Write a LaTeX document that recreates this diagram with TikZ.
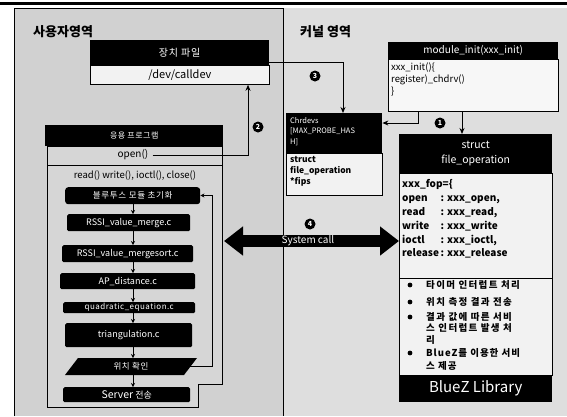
\documentclass[tikz,border=0pt]{standalone}
\usepackage{fontspec}
\setmainfont{Noto Sans CJK KR}
\usetikzlibrary{arrows.meta,calc}
\newcommand\fsz[2]{\fontsize{#1}{#2}\selectfont}
\begin{document}
\begin{tikzpicture}[x=1pt,y=-1pt,
  hdr/.style={fill=black,text=white,inner sep=0pt,anchor=north west,align=center},
  bodybox/.style={draw=black,line width=0.8pt,fill=gray!10,inner sep=0pt,anchor=north west},
  flowbox/.style={fill=black,text=white,inner sep=0pt,anchor=north west,rounded corners=1.5pt,font=\fsz{9}{9}},
  conn/.style={line width=0.9pt,-{Stealth[length=6pt,width=5pt]}},
  small/.style={line width=0.8pt,-{Stealth[length=4pt,width=4pt]}},
  dotnum/.style={circle,fill=black,text=white,inner sep=0pt,minimum size=11pt,font=\fsz{7}{7}\bfseries},
  txt/.style={inner sep=0pt},
  bul/.style={inner sep=0pt},
]
\useasboundingbox (0,0) rectangle (567,416);
% background panels
\fill[white] (0,0) rectangle (567,416);
\fill[gray!26] (283,8) rectangle (567,416);
\fill[gray!36] (14,8) rectangle (283,416);
\draw[line width=3pt] (0,3) -- (567,3);
\draw[line width=0.6pt] (14,416) -- (14,8) -- (283,8);
\draw[line width=0.8pt] (283,8) -- (283,416);

% titles
\node[txt,anchor=west,font=\fsz{13}{13}\bfseries] (userT) at (33,32) {사용자영역};
\node[txt,anchor=west,font=\fsz{13}{13}\bfseries] (kernT) at (300,32) {커널 영역};

% device file
\node[hdr,minimum width=179pt,minimum height=25pt,font=\fsz{10}{10}\addfontfeature{LetterSpace=8}] (devhead) at (90,40) {장치 파일};
\node[bodybox,minimum width=179pt,minimum height=19pt,font=\fsz{11}{11}] (devbody) at (90,65) {/dev/calldev};

% application box
\draw[line width=0.8pt,fill=gray!32] (47,146) -- (47,407) -- (198,407) -- (198,384) -- (222,384) -- (222,146) -- cycle;
\draw[line width=0.8pt] (47,165) -- (222,165);
\node[hdr,minimum width=178pt,minimum height=21pt,font=\fsz{8}{8}\addfontfeature{LetterSpace=6}] (apphead) at (45,125) {응용 프로그램};
\node[txt,font=\fsz{10}{10}] (opentxt) at (133,155) {open()};
\node[txt,font=\fsz{9.5}{10}] (rwtxt) at (135,176) {read() write(), ioctl(), close()};

% flow
\node[flowbox,minimum width=135pt,minimum height=17pt,rounded corners=3pt,font=\fsz{8.5}{9}\addfontfeature{LetterSpace=8}] (bt) at (65,187) {블루투스 모듈 초기화};
\node[flowbox,minimum width=123pt,minimum height=17pt] (r1) at (67,214) {RSSI\_value\_merge.c};
\node[flowbox,minimum width=131pt,minimum height=17pt] (r2) at (62,245) {RSSI\_value\_mergesort.c};
\node[flowbox,minimum width=135pt,minimum height=16pt] (ap) at (60,273) {AP\_distance.c};
\node[flowbox,minimum width=132pt,minimum height=11pt,font=\fsz{8}{8}\addfontfeature{LetterSpace=6}] (qe) at (63,302) {quadratic\_equation.c};
\node[flowbox,minimum width=127pt,minimum height=24pt] (tr) at (65,323) {triangulation.c};
\fill[black] (65,375) -- (78,358) -- (197,358) -- (184,375) -- cycle;
\node[txt,text=white,font=\fsz{8.5}{9}\addfontfeature{LetterSpace=6}] (pos) at (131,366.5) {위치 확인};
\coordinate (posR) at (190,366.5);
\coordinate (posT) at (133,358);
\coordinate (posB) at (133,375);
\node[flowbox,minimum width=127pt,minimum height=15pt] (sv) at (63,387) {{\fsz{10.5}{10}Server} 전송};

\coordinate (fx) at (133,0);
\draw[small] (bt.south -| fx) -- (r1.north -| fx);
\draw[small] (r1.south -| fx) -- (r2.north -| fx);
\draw[small] (r2.south -| fx) -- (ap.north -| fx);
\draw[small] (ap.south -| fx) -- (qe.north -| fx);
\draw[small] (qe.south -| fx) -- (tr.north -| fx);
\draw[small] (tr.south -| fx) -- (posT);
\draw[small] (posB) -- (sv.north -| fx);
\coordinate (loopA) at (212,366.5);
\coordinate (loopB) at (212,195.5);
\draw[small] (posR) -- (loopA) -- (loopB) -- (bt.east |- loopB);

% open -> device file
\coordinate (c2) at (248,155);
\draw[conn] (opentxt.east) ++(4,0) -- (c2) -- (c2 |- devbody.south);

% kernel: module_init
\node[hdr,minimum width=170pt,minimum height=17pt,font=\fsz{10}{10}] (modhead) at (388,42) {module\_init(xxx\_init)};
\node[bodybox,minimum width=170pt,minimum height=52pt,fill=gray!6] (modbody) at (388,59) {};
\node[txt,anchor=north west,align=left,font=\fsz{9.5}{12}] (modtxt) at (391,63) {xxx\_init()\{\\register)\_chdrv()\\\}};

% chrdevs
\node[hdr,minimum width=96pt,minimum height=40pt] (chrhead) at (286,113) {};
\node[txt,anchor=north west,align=left,text=white,font=\fsz{7.5}{10.5}] (chrtxt) at (290,117) {Chrdevs\\{[}MAX\_PROBE\_HAS\\H{]}};
\node[bodybox,minimum width=96pt,minimum height=42pt] (chrbody) at (286,153) {};
\node[txt,anchor=north west,align=left,font=\fsz{8.5}{11}\bfseries] (chrbtxt) at (290,156) {struct\\file\_operation\\*fips};

% struct file_operation
\node[hdr,minimum width=153pt,minimum height=39pt,font=\fsz{10.5}{15}] (sthead) at (399,134) {struct\\file\_operation};
\node[bodybox,minimum width=153pt,minimum height=105pt] (stbody) at (399,173) {};
\node[txt,anchor=north west,align=left,font=\fsz{10}{13.8}\bfseries] (fop) at (402,178) {%
  \begin{tabular}{@{}l@{}l@{}}
  \multicolumn{2}{@{}l@{}}{xxx\_fop=\{}\\
  open & : xxx\_open,\\
  read & : xxx\_read,\\
  write & : xxx\_write\\
  ioctl & : xxx\_ioctl,\\
  release\, & : xxx\_release
  \end{tabular}};
\node[bodybox,minimum width=153pt,minimum height=97pt] (stbul) at (399,278) {};
\node[hdr,minimum width=153pt,minimum height=27pt,font=\fsz{15}{15}] (stfoot) at (399,375) {BlueZ Library};

\foreach \yy in {285,302,317,353} \fill (410,\yy) circle (2.4pt);
\node[bul,anchor=west,font=\fsz{9.5}{9.5}\bfseries\addfontfeature{LetterSpace=14}] (b1) at (426,285) {타이머 인터럽트 처리};
\node[bul,anchor=west,font=\fsz{9.5}{9.5}\bfseries\addfontfeature{LetterSpace=14}] (b2) at (426,302) {위치 측정 결과 전송};
\node[bul,anchor=north west,align=left,font=\fsz{9.5}{11.5}\bfseries\addfontfeature{LetterSpace=14}] (b3) at (426,312) {결과 값에 따른 서비\\스 인터럽트 발생 처\\리};
\node[bul,anchor=north west,align=left,font=\fsz{9.5}{13.5}\bfseries\addfontfeature{LetterSpace=10}] (b4) at (426,348) {BlueZ를 이용한 서비\\스 제공};

% connectors in kernel
\coordinate (c1) at (343,62);
\draw[conn] (devhead.east |- c1) -- (c1) -- (c1 |- chrhead.north);
\coordinate (c3) at (418,123);
\draw[conn] (c3 |- modbody.south) -- (c3) -- (chrhead.east |- c3);
\coordinate (c4) at (462,0);
\draw[conn] (c4 |- modbody.south) -- (c4 |- sthead.north);

% system call
\coordinate (sysL) at (224,241);
\coordinate (sysR) at (stbody.west |- sysL);
\draw[line width=12pt,{Triangle[length=19pt,width=28pt]}-{Triangle[length=19pt,width=28pt]}] (sysL) -- (sysR);
\node[txt,text=white,font=\fsz{10}{10}] (sys) at (308,241) {System call};

% numbered markers
\node[dotnum] (n1) at (440,123) {1};
\node[dotnum] (n2) at (258,127) {2};
\node[dotnum] (n3) at (315,76) {3};
\node[dotnum] (n4) at (310,224) {4};
\end{tikzpicture}
\end{document}
